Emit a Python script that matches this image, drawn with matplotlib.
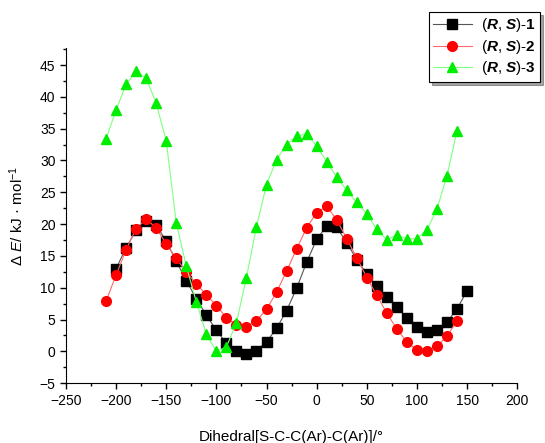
import numpy as np
import matplotlib
matplotlib.use("Agg")
from matplotlib import pyplot as plt
from matplotlib.ticker import MultipleLocator

plt.rcParams['font.family'] = ['Liberation Sans', 'DejaVu Sans']
plt.rcParams['mathtext.fontset'] = 'custom'
plt.rcParams['mathtext.rm'] = 'Liberation Sans'
plt.rcParams['mathtext.it'] = 'Liberation Sans:italic'
plt.rcParams['mathtext.bf'] = 'Liberation Sans:bold'
plt.rcParams['mathtext.bfit'] = 'Liberation Sans:bold:italic'

# dihedral angles (deg)
x1 = np.arange(-200, 151, 10)
x2 = np.arange(-210, 141, 10)
x3 = np.arange(-210, 141, 10)

# relative energies, kJ/mol
e1 = [13.0, 16.3, 19.0, 20.5, 19.9, 17.3, 14.2, 11.1, 8.3, 5.7, 3.3, 1.3,
      0.0, -0.4, 0.1, 1.5, 3.6, 6.4, 9.9, 14.0, 17.6, 19.7, 19.5, 17.1,
      14.4, 12.2, 10.3, 8.6, 6.9, 5.3, 3.8, 3.0, 3.3, 4.6, 6.7, 9.5]
e2 = [7.9, 12.0, 16.0, 19.3, 20.8, 19.4, 16.9, 14.6, 12.5, 10.6, 8.9, 7.2,
      5.3, 4.1, 3.9, 4.8, 6.6, 9.3, 12.6, 16.1, 19.4, 21.8, 22.8, 20.7,
      17.7, 14.7, 11.6, 8.8, 6.0, 3.5, 1.5, 0.2, 0.0, 0.8, 2.4, 4.8]
e3 = [33.4, 37.9, 42.0, 44.0, 42.9, 39.0, 33.1, 20.2, 13.4, 7.8, 2.7, 0.0,
      0.7, 4.5, 11.6, 19.6, 26.2, 30.1, 32.5, 33.8, 34.2, 32.3, 29.8, 27.4,
      25.3, 23.4, 21.6, 19.2, 17.5, 18.3, 17.7, 17.7, 19.1, 22.4, 27.6, 34.7]

labels = [r'($\mathbfit{R}$, $\mathbfit{S}$)-$\mathbf{1}$',
          r'($\mathbfit{R}$, $\mathbfit{S}$)-$\mathbf{2}$',
          r'($\mathbfit{R}$, $\mathbfit{S}$)-$\mathbf{3}$']

fig = plt.figure(figsize=(5.45, 4.43), dpi=100)
ax = fig.add_axes([0.121, 0.135, 0.828, 0.757])

l1, = ax.plot(x1, e1, color='#555555', lw=0.8, marker='s', ms=6.5,
              mfc='black', mec='black', label=labels[0])
l2, = ax.plot(x2, e2, color='#ff6a6a', lw=0.8, marker='o', ms=7,
              mfc='red', mec='red', label=labels[1])
l3, = ax.plot(x3, e3, color='#80ff80', lw=0.8, marker='^', ms=7.5,
              mfc='#00ee00', mec='#00ee00', label=labels[2])

ax.set_xlim(-250, 200)
ax.set_ylim(-5, 47.7)
ax.xaxis.set_major_locator(MultipleLocator(50))
ax.xaxis.set_minor_locator(MultipleLocator(25))
ax.yaxis.set_major_locator(MultipleLocator(5))
ax.yaxis.set_minor_locator(MultipleLocator(2.5))
ax.set_yticks(np.arange(-5, 46, 5))
ax.tick_params(which='major', direction='out', length=4, width=1, labelsize=10)
ax.tick_params(which='minor', direction='out', length=2.5, width=1)
for s in ['top', 'right']:
    ax.spines[s].set_visible(False)

ax.set_xlabel('Dihedral[S-C-C(Ar)-C(Ar)]/°', fontsize=11, labelpad=16)
ax.set_ylabel(r'$\Delta$ $\mathit{E}$/ kJ · mol$^{-1}$', fontsize=11, labelpad=10)

leg = fig.legend(handles=[l1, l2, l3], loc='upper right',
                 bbox_to_anchor=(0.997, 0.98), fontsize=11, frameon=True,
                 fancybox=False, shadow=True, edgecolor='black',
                 handlelength=2.5, borderpad=0.3, labelspacing=0.22,
                 handletextpad=0.6, borderaxespad=0.2)
leg.get_frame().set_linewidth(0.8)

fig.savefig('out.png', dpi=100)
